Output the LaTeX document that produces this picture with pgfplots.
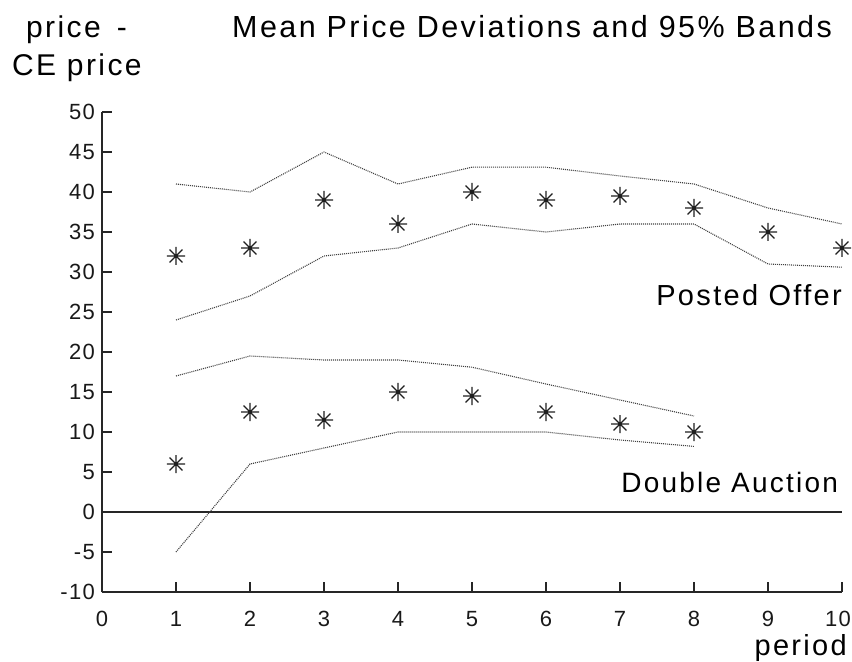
\documentclass[border=0pt]{standalone}
\usepackage{pgfplots}
\pgfplotsset{compat=1.18}
\usepackage{fontspec}
\setmainfont[LetterSpace=8]{Liberation Sans}
\newfontfamily\tickfont[LetterSpace=6]{Liberation Sans}
\pgfdeclareplotmark{ast8}{%
 \pgfpathmoveto{\pgfqpoint{0pt}{\pgfplotmarksize}}\pgfpathlineto{\pgfqpoint{0pt}{-\pgfplotmarksize}}%
 \pgfpathmoveto{\pgfqpoint{\pgfplotmarksize}{0pt}}\pgfpathlineto{\pgfqpoint{-\pgfplotmarksize}{0pt}}%
 \pgfpathmoveto{\pgfqpoint{0.72\pgfplotmarksize}{0.72\pgfplotmarksize}}\pgfpathlineto{\pgfqpoint{-0.72\pgfplotmarksize}{-0.72\pgfplotmarksize}}%
 \pgfpathmoveto{\pgfqpoint{-0.72\pgfplotmarksize}{0.72\pgfplotmarksize}}\pgfpathlineto{\pgfqpoint{0.72\pgfplotmarksize}{-0.72\pgfplotmarksize}}%
 \pgfusepathqstroke
 \pgfpathcircle{\pgfpointorigin}{1.5bp}\pgfusepathqfill}
\begin{document}
\begin{tikzpicture}
\path[use as bounding box] (-102bp,-70bp) rectangle (750bp,592bp);
\begin{axis}[at={(0,0)}, anchor=south west, scale only axis,
  width=740bp, height=480bp,
  xmin=0, xmax=10, ymin=-10, ymax=50,
  axis lines*=left,
  axis line style={line width=1.4bp, black!85},
  xtick={0,1,...,10}, ytick={-10,-5,...,50},
  xticklabels={0,1,2,3,4,5,6,7,8,9,{\hspace*{-8bp}10}},
  tick align=inside, major tick length=10bp,
  tick style={line width=1.3bp, black!85},
  ticklabel style={font=\tickfont\fontsize{22bp}{25bp}\selectfont, text=black!90},
  /pgf/number format/assume math mode=true,
  xticklabel style={anchor=north, inner sep=0pt, yshift=-19bp},
  yticklabel style={anchor=east, inner sep=0pt, xshift=-7bp},
  clip=false]
\addplot[black!85, line width=1.3bp] coordinates {(0,0) (10,0)};
% Posted Offer bands
\addplot[black!75, line width=1.1bp, dash pattern=on 1bp off 1bp] coordinates {
(1,41) (2,40) (3,45) (4,41) (5,43.1) (6,43.1) (7,42) (8,41) (9,38) (10,36)};
\addplot[black!75, line width=1.1bp, dash pattern=on 1bp off 1bp] coordinates {
(1,24) (2,27) (3,32) (4,33) (5,36) (6,35) (7,36) (8,36) (9,31) (10,30.6)};
% Double Auction bands
\addplot[black!75, line width=1.1bp, dash pattern=on 1bp off 1bp] coordinates {
(1,17) (2,19.5) (3,19) (4,19) (5,18.1) (6,16) (7,14) (8,12)};
\addplot[black!75, line width=1.1bp, dash pattern=on 1bp off 1bp] coordinates {
(1,-5) (2,6) (3,8) (4,10) (5,10) (6,10) (7,9) (8,8.2)};
% means
\addplot[only marks, mark=ast8, mark size=9bp, mark options={line width=1.4bp, black!88}] coordinates {
(1,32) (2,33) (3,39) (4,36) (5,40) (6,39) (7,39.5) (8,38) (9,35) (10,33)};
\addplot[only marks, mark=ast8, mark size=9bp, mark options={line width=1.4bp, black!88}] coordinates {
(1,6) (2,12.5) (3,11.5) (4,15) (5,14.5) (6,12.5) (7,11) (8,10)};
\node[anchor=east, inner sep=0pt, font=\fontsize{29bp}{34bp}\selectfont] at (axis cs:10.0,27.1) {Posted Offer};
\node[anchor=east, inner sep=0pt, font=\fontsize{28bp}{34bp}\selectfont] at (axis cs:9.95,3.7) {Double Auction};
\end{axis}
\node[anchor=base west, inner sep=0pt, font=\fontsize{30.5bp}{34bp}\selectfont] at (130bp,554bp) {Mean Price Deviations and 95\% Bands};
\node[anchor=base west, inner sep=0pt, font=\fontsize{30bp}{34bp}\selectfont] at (-76bp,554bp) {price\hspace*{16bp}-};
\node[anchor=base west, inner sep=0pt, font=\fontsize{30bp}{34bp}\selectfont] at (-90bp,516bp) {CE price};
\node[anchor=base east, inner sep=0pt, font=\fontsize{29bp}{34bp}\selectfont] at (745bp,-63bp) {period};
\end{tikzpicture}
\end{document}
